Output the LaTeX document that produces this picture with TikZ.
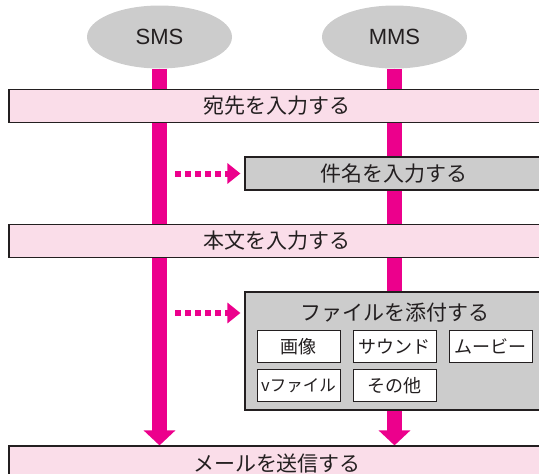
\documentclass[tikz,border=0pt]{standalone}
\usepackage{fontspec}
\setmainfont{Noto Sans CJK JP}
\newfontfamily\latinsans{Liberation Sans}
\usetikzlibrary{arrows.meta,shapes.geometric,backgrounds}
\definecolor{mpink}{HTML}{EC008C}
\definecolor{softpink}{HTML}{FADDE9}
\definecolor{midgray}{HTML}{CCCCCC}
\definecolor{textgray}{HTML}{231F20}

\begin{document}
\begin{tikzpicture}[x=1pt,y=-1pt,
  svc/.style={ellipse,fill=midgray,minimum width=145pt,minimum height=63pt,
    inner sep=0pt,text=textgray,font=\latinsans\fontsize{22}{26}\selectfont},
  pbox/.style={draw=textgray,line width=1.2pt,fill=softpink,minimum width=536pt,
    minimum height=33pt,inner sep=0pt,text=textgray,font=\fontsize{21}{25}\selectfont},
  gbox/.style={draw=textgray,line width=1.2pt,fill=midgray,minimum width=298pt,
    minimum height=33pt,inner sep=0pt,text=textgray,font=\fontsize{21}{25}\selectfont},
  sub/.style={draw=textgray,line width=1pt,fill=white,minimum width=83pt,
    minimum height=32pt,inner sep=0pt,text=textgray,font=\fontsize{18}{22}\selectfont},
  flow/.style={-{Triangle[length=15pt,width=31pt]},line width=15pt,mpink},
  hint/.style={-{Triangle[length=13pt,width=20pt]},line width=6pt,mpink,
    dash pattern=on 6pt off 4pt,shorten >=4pt}]
\clip (0,0) rectangle (539,474);
\node[svc] (sms) at (159.5,37) {SMS};
\node[svc] (mms) at (394.5,37) {MMS};

\node[pbox] (s1) at (277,106) {宛先を入力する};
\node[gbox] (s2) at (394,173.5) {件名を入力する};
\node[pbox] (s3) at (277,241) {本文を入力する};
\node[gbox,minimum height=118pt] (s4) at (394,351) {};
\node[text=textgray,font=\fontsize{21}{25}\selectfont] (t4) at (394.5,313) {ファイルを添付する};
\node[sub] (f1) at (298.5,346.5) {画像};
\node[sub] (f2) at (394.5,346.5) {サウンド};
\node[sub] (f3) at (490.5,346.5) {ムービー};
\node[sub,font=\fontsize{16.5}{20}\selectfont] (f4) at (298.5,385.5) {vファイル};
\node[sub] (f5) at (394.5,385.5) {その他};
\node[pbox,minimum height=36pt] (fin) at (277,464) {メールを送信する};

\coordinate (d2) at (175,173.5);
\coordinate (d4) at (175,313);
\draw[hint] (d2) -- (s2);
\draw[hint] (d4) -- (d4 -| s4.west);

\begin{scope}[on background layer]
\draw[flow] (sms.south) -- (sms.south |- fin.north);
\draw[flow] (mms.south) -- (mms.south |- fin.north);
\end{scope}
\end{tikzpicture}
\end{document}
